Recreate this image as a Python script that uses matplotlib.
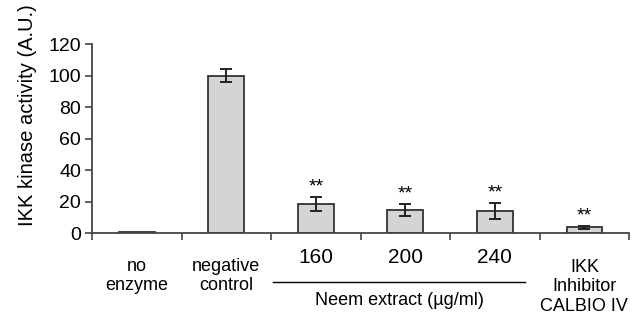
import matplotlib
matplotlib.use("Agg")
from matplotlib import pyplot as plt
import matplotlib.transforms as mtransforms

plt.rcParams["font.family"] = ["Liberation Sans", "DejaVu Sans"]

categories = ["no\nenzyme", "negative\ncontrol", "160", "200", "240", "IKK\nInhibitor\nCALBIO IV"]
values = [0.5, 100, 18.3, 14.6, 14.0, 3.6]
errors = [0, 4, 4.5, 3.8, 5.0, 1.0]
stars = ["", "", "**", "**", "**", "**"]
yticks = [0, 20, 40, 60, 80, 100, 120]

fig = plt.figure(figsize=(6.44, 3.22), dpi=100)
ax = fig.add_axes([0.143, 0.276, 0.834, 0.587])

x = list(range(len(values)))
ax.bar(x, values, width=0.4, color="#d4d4d4", edgecolor="#333333", linewidth=1.3, zorder=2)
for xi, v, e in zip(x, values, errors):
    if e > 0:
        ax.errorbar(xi, v, yerr=e, color="#222222", capsize=4.5, elinewidth=1.4, capthick=1.4, zorder=3)
for xi, v, e, s in zip(x, values, errors, stars):
    if s:
        ax.text(xi, v + e + 1.0, s, ha="center", va="bottom", fontsize=14)

ax.set_xlim(-0.5, 5.5)
ax.set_ylim(0, 120)
ax.set_yticks(yticks)
ax.tick_params(axis="y", labelsize=14, direction="out", length=5, width=1.2, color="#444444", pad=3)
ax.set_xticks([i - 0.5 for i in range(len(values) + 1)])
ax.set_xticklabels([])
ax.tick_params(axis="x", direction="out", length=5, width=1.2, color="#444444")
for side in ["top", "right"]:
    ax.spines[side].set_visible(False)
for side in ["left", "bottom"]:
    ax.spines[side].set_color("#444444")
    ax.spines[side].set_linewidth(1.3)
fig.text(0.042, 0.643, "IKK kinase activity (A.U.)", rotation=90, ha="center", va="center", fontsize=14.5)

trans = mtransforms.blended_transform_factory(ax.transData, fig.transFigure)
for xi, lab in zip(x, categories):
    if lab.isdigit():
        ax.text(xi, 0.199, lab, ha="center", va="center", fontsize=15, transform=trans)
    else:
        ax.text(xi, 0.143 if lab.count("\n") == 1 else 0.109, lab, ha="center", va="center",
                fontsize=13, linespacing=1.2, transform=trans)

ax.plot([1.52, 4.34], [0.124, 0.124], color="black", linewidth=1.0, transform=trans, clip_on=False)
ax.text(2.93, 0.068, "Neem extract (\u00b5g/ml)", ha="center", va="center", fontsize=13, transform=trans)

fig.savefig("out.png", dpi=100)
